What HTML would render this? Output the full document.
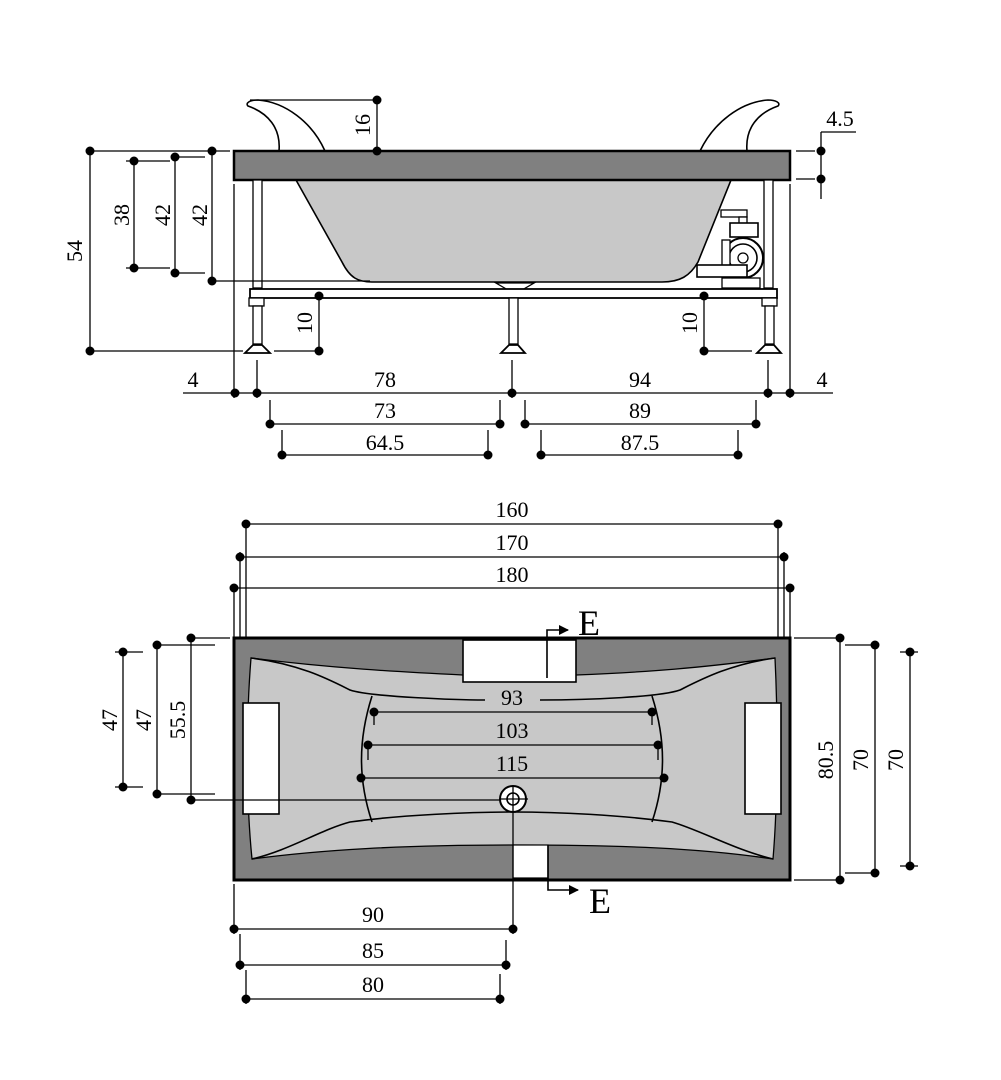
<!DOCTYPE html>
<html><head><meta charset="utf-8"><style>
html,body{margin:0;padding:0;background:#fff}
svg{display:block}
text{font-family:"Liberation Serif",serif;font-size:22px;fill:#000}
</style></head><body>
<svg width="1001" height="1080" viewBox="0 0 1001 1080" xmlns="http://www.w3.org/2000/svg">
<defs>
<marker id="ar" markerWidth="10" markerHeight="10" refX="9" refY="5" orient="auto" markerUnits="userSpaceOnUse"><path d="M0,0 L10,5 L0,10 Z"/></marker>
</defs>
<g stroke="#000" fill="none" stroke-width="1.3">
<path d="M279,151 C281,128 268,113 248,106 C245,103 250,100 258,100 C285,102 312,122 325,151" fill="#fff" stroke-width="1.6"/>
<path d="M747,151 C745,128 758,113 778,106 C781,103 776,100 768,100 C741,102 714,122 700,151" fill="#fff" stroke-width="1.6"/>
<path d="M296,180 L342,262 C350,278 358,282 372,282 L662,282 C680,282 690,276 698,262 L731,180 Z" fill="#c8c8c8" stroke-width="1.6"/>
<path d="M496,283 L534,283 L522,290 L508,290 Z" fill="#fff"/>
<rect x="234" y="151" width="556" height="29" fill="#808080" stroke-width="2.5"/>
<rect x="253" y="180" width="9" height="108" fill="#fff"/>
<rect x="764" y="180" width="9" height="108" fill="#fff"/>
<rect x="721" y="210" width="26" height="7" fill="#fff"/>
<rect x="739" y="217" width="8" height="8" fill="#fff"/>
<rect x="730" y="223" width="28" height="14" fill="#fff" stroke-width="1.6"/>
<circle cx="743" cy="258" r="20" fill="#fff" stroke-width="2"/>
<circle cx="743" cy="258" r="14" fill="#fff" stroke-width="1.6"/>
<circle cx="743" cy="258" r="5" fill="#fff"/>
<rect x="722" y="240" width="8" height="30" fill="#fff"/>
<rect x="697" y="265" width="50" height="12" fill="#fff" stroke-width="1.6"/>
<rect x="722" y="278" width="38" height="10" fill="#fff"/>
<rect x="250" y="289" width="527" height="9" fill="#fff" stroke-width="1.8"/>
<rect x="249" y="298" width="15" height="8" fill="#fff"/>
<rect x="253" y="306" width="9" height="38" fill="#fff"/>
<path d="M245,353 L270,353 L262,345 L253,345 Z" fill="#fff" stroke-width="1.8"/>
<rect x="509" y="298" width="9" height="46" fill="#fff"/>
<path d="M501,353 L525,353 L518,345 L509,345 Z" fill="#fff" stroke-width="1.8"/>
<rect x="762" y="298" width="15" height="8" fill="#fff"/>
<rect x="765" y="306" width="9" height="38" fill="#fff"/>
<path d="M757,353 L781,353 L774,345 L765,345 Z" fill="#fff" stroke-width="1.8"/>
<path d="M250,100 H377 V151"/>
<path d="M90,151 H230 M90,151 V351 M90,351 H243"/>
<path d="M134,161 V268 M126,161 H170 M126,268 H170"/>
<path d="M175,157 V273 M175,157 H205 M175,273 H205"/>
<path d="M212,151 V281 M212,281 H370"/>
<path d="M319,296 V351 M274,351 H319"/>
<path d="M704,296 V351 M704,351 H752"/>
<path d="M821,132 H856 M821,132 V199 M796,151 H815 M796,179 H815"/>
<path d="M234,184 V398 M790,184 V398 M257,360 V398 M512,360 V398 M768,360 V398"/>
<path d="M183,393 H833"/>
<path d="M270,400 V424 H500 V400 M525,400 V424 H756 V400"/>
<path d="M282,430 V455 H488 V430 M541,430 V455 H738 V430"/>
</g>
<g fill="#000">
<circle cx="377" cy="100" r="4.5"/><circle cx="377" cy="151" r="4.5"/>
<circle cx="90" cy="151" r="4.5"/><circle cx="90" cy="351" r="4.5"/>
<circle cx="134" cy="161" r="4.5"/><circle cx="134" cy="268" r="4.5"/>
<circle cx="175" cy="157" r="4.5"/><circle cx="175" cy="273" r="4.5"/>
<circle cx="212" cy="151" r="4.5"/><circle cx="212" cy="281" r="4.5"/>
<circle cx="319" cy="296" r="4.5"/><circle cx="319" cy="351" r="4.5"/>
<circle cx="704" cy="296" r="4.5"/><circle cx="704" cy="351" r="4.5"/>
<circle cx="821" cy="151" r="4.5"/><circle cx="821" cy="179" r="4.5"/>
<circle cx="235" cy="393" r="4.5"/><circle cx="257" cy="393" r="4.5"/><circle cx="512" cy="393" r="4.5"/><circle cx="768" cy="393" r="4.5"/><circle cx="790" cy="393" r="4.5"/>
<circle cx="270" cy="424" r="4.5"/><circle cx="500" cy="424" r="4.5"/><circle cx="525" cy="424" r="4.5"/><circle cx="756" cy="424" r="4.5"/>
<circle cx="282" cy="455" r="4.5"/><circle cx="488" cy="455" r="4.5"/><circle cx="541" cy="455" r="4.5"/><circle cx="738" cy="455" r="4.5"/>
</g>
<g text-anchor="middle">
<text transform="translate(370,125) rotate(-90)">16</text>
<text transform="translate(82,251) rotate(-90)">54</text>
<text transform="translate(129,215) rotate(-90)">38</text>
<text transform="translate(170,215) rotate(-90)">42</text>
<text transform="translate(207,215) rotate(-90)">42</text>
<text transform="translate(312,323) rotate(-90)">10</text>
<text transform="translate(697,323) rotate(-90)">10</text>
<text x="840" y="126">4.5</text>
<text x="193" y="387">4</text><text x="385" y="387">78</text><text x="640" y="387">94</text><text x="822" y="387">4</text>
<text x="385" y="418">73</text><text x="640" y="418">89</text>
<text x="385" y="450">64.5</text><text x="640" y="450">87.5</text>
</g>
<g stroke="#000" fill="none" stroke-width="1.3">
<path d="M246,520 V650 M778,520 V650 M240,552 V650 M784,552 V650 M234,585 V638 M790,585 V638"/>
<path d="M246,524 H778 M240,557 H784 M234,588 H790"/>
<rect x="234" y="638" width="556" height="242" fill="#808080" stroke-width="3"/>
<path d="M251,658 C330,668 400,672 463,675 L576,675 C650,672 700,668 775,658 C778,720 778,800 773,859 C700,848 620,845 513,845 C400,845 320,850 252,859 C246,800 246,720 251,658 Z" fill="#c8c8c8"/>
<path d="M251,658 C300,664 330,680 350,690 C370,697 460,700 485,700 M540,700 C590,700 660,697 680,690 C700,680 730,664 775,658" stroke-width="1.6"/>
<path d="M372,696 C358,740 358,780 372,822 M652,696 C666,740 666,780 652,822" stroke-width="1.6"/>
<path d="M252,859 C290,850 320,830 350,822 C400,815 470,812 513,812 C560,812 620,815 672,822 C700,830 735,850 773,859" stroke-width="1.6"/>
<rect x="463" y="640" width="113" height="42" fill="#fff" stroke-width="1.6"/>
<rect x="513" y="845" width="35" height="33" fill="#fff" stroke-width="1.2"/>
<rect x="243" y="703" width="36" height="111" fill="#fff" stroke-width="1.6"/>
<rect x="745" y="703" width="36" height="111" fill="#fff" stroke-width="1.6"/>
<path d="M547,678 V630 H568" stroke-width="1.6" marker-end="url(#ar)"/>
<path d="M548,845 V890 H578" stroke-width="1.6" marker-end="url(#ar)"/>
<circle cx="513" cy="799" r="13" fill="#fff" stroke-width="2"/>
<circle cx="513" cy="799" r="6" fill="#fff" stroke-width="1.6"/>
<path d="M500,799 H528 M513,786 V812 M513,812 V934"/>
<path d="M374,712 H652 M368,745 H658 M361,778 H664"/>
<path d="M374,712 V725 M652,712 V725 M368,745 V760 M658,745 V760"/>
<path d="M123,652 V787 M115,652 H143 M115,787 H143"/>
<path d="M157,645 V794 M157,645 H215 M157,794 H215"/>
<path d="M191,638 V800 M191,638 H230 M191,800 H500"/>
<path d="M840,638 V880 M794,638 H840 M794,880 H840"/>
<path d="M875,645 V873 M845,645 H875 M845,873 H875"/>
<path d="M910,652 V866 M900,652 H918 M900,866 H918"/>
<path d="M234,884 V934 M240,934 V970 M246,970 V1004 M506,940 V970 M500,974 V1004"/>
<path d="M234,929 H513 M240,965 H506 M246,999 H500"/>
</g>
<g fill="#000">
<circle cx="246" cy="524" r="4.5"/><circle cx="778" cy="524" r="4.5"/>
<circle cx="240" cy="557" r="4.5"/><circle cx="784" cy="557" r="4.5"/>
<circle cx="234" cy="588" r="4.5"/><circle cx="790" cy="588" r="4.5"/>
<circle cx="374" cy="712" r="4.5"/><circle cx="652" cy="712" r="4.5"/>
<circle cx="368" cy="745" r="4.5"/><circle cx="658" cy="745" r="4.5"/>
<circle cx="361" cy="778" r="4.5"/><circle cx="664" cy="778" r="4.5"/>
<circle cx="123" cy="652" r="4.5"/><circle cx="123" cy="787" r="4.5"/>
<circle cx="157" cy="645" r="4.5"/><circle cx="157" cy="794" r="4.5"/>
<circle cx="191" cy="638" r="4.5"/><circle cx="191" cy="800" r="4.5"/>
<circle cx="840" cy="638" r="4.5"/><circle cx="840" cy="880" r="4.5"/>
<circle cx="875" cy="645" r="4.5"/><circle cx="875" cy="873" r="4.5"/>
<circle cx="910" cy="652" r="4.5"/><circle cx="910" cy="866" r="4.5"/>
<circle cx="234" cy="929" r="4.5"/><circle cx="513" cy="929" r="4.5"/>
<circle cx="240" cy="965" r="4.5"/><circle cx="506" cy="965" r="4.5"/>
<circle cx="246" cy="999" r="4.5"/><circle cx="500" cy="999" r="4.5"/>
</g>
<g text-anchor="middle">
<text x="512" y="517">160</text><text x="512" y="550">170</text><text x="512" y="582">180</text>
<text x="512" y="705">93</text><text x="512" y="738">103</text><text x="512" y="771">115</text>
<text transform="translate(117,720) rotate(-90)">47</text>
<text transform="translate(151,720) rotate(-90)">47</text>
<text transform="translate(185,720) rotate(-90)">55.5</text>
<text transform="translate(833,760) rotate(-90)">80.5</text>
<text transform="translate(868,760) rotate(-90)">70</text>
<text transform="translate(903,760) rotate(-90)">70</text>
<text x="373" y="922">90</text><text x="373" y="958">85</text><text x="373" y="992">80</text>
</g>
<text x="578" y="635" style="font-size:36px">E</text>
<text x="589" y="913" style="font-size:36px">E</text>
</svg>
</body></html>
